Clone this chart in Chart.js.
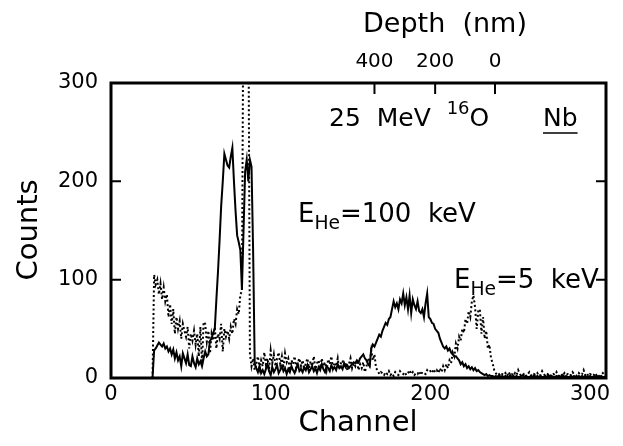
<!DOCTYPE html>
<html>
<head>
<meta charset="utf-8">
<script src="https://cdn.jsdelivr.net/npm/chart.js@4.4.1/dist/chart.umd.min.js"></script>
<style>
  html, body { margin: 0; padding: 0; background: #fff; }
  #spectrum { display: block; }
</style>
</head>
<body>
<canvas id="spectrum" width="623" height="446"></canvas>
<script>
/* data: counts per channel, starting at firstChannel */
const firstChannel = 26;

const counts100keV = [
  0, 28, 30, 33, 36, 34, 32, 35, 30, 32, 27, 30, 24, 29, 20, 26, 18, 22, 12, 25,
  20, 15, 24, 13, 12, 22, 15, 11, 20, 14, 17, 12, 20, 27, 22, 24, 38, 40, 46, 50,
  80, 108, 140, 175, 200, 228, 222, 216, 214, 225, 234, 200, 170, 145, 138, 130, 90, 150, 210, 222,
  200, 222, 215, 130, 15, 10, 6, 12, 5, 8, 4, 9, 14, 7, 3, 11, 6, 9, 13, 5,
  8, 12, 7, 10, 4, 9, 6, 12, 8, 5, 10, 14, 7, 9, 6, 11, 8, 13, 6, 9,
  12, 7, 10, 5, 11, 8, 14, 9, 6, 12, 10, 7, 13, 9, 11, 8, 14, 10, 12, 9,
  15, 11, 13, 10, 12, 14, 16, 15, 18, 16, 20, 22, 24, 20, 18, 14, 12, 30, 34, 32,
  36, 40, 44, 42, 48, 52, 56, 54, 60, 62, 70, 78, 72, 76, 70, 80, 76, 86, 74, 82,
  70, 84, 66, 80, 74, 70, 78, 68, 66, 70, 62, 76, 86, 62, 60, 56, 55, 50, 48, 46,
  40, 36, 32, 30, 32, 28, 30, 26, 24, 22, 22, 20, 18, 14, 16, 12, 14, 10, 12, 9,
  11, 8, 10, 7, 8, 6, 5, 4, 3, 4, 2, 3, 2, 2, 1, 2, 1, 3, 1, 2,
  1, 2, 1, 1, 3, 1, 2, 1, 2, 1, 1, 2, 3, 1, 2, 1, 1, 2, 1, 3,
  1, 2, 1, 2, 1, 1, 2, 1, 3, 1, 2, 1, 1, 2, 1, 2, 1, 3, 1, 2,
  1, 1, 2, 1, 2, 1, 1, 2, 1, 2, 1, 2, 1, 1, 2, 1, 1, 2, 1, 2,
  1, 2, 1, 1, 2
];

const counts5keV = [
  0, 105, 95, 100, 85, 96, 80, 92, 78, 85, 62, 75, 55, 70, 45, 62, 50, 58, 40, 55,
  48, 42, 52, 30, 45, 38, 48, 34, 45, 22, 52, 15, 57, 55, 37, 48, 25, 45, 38, 52,
  30, 45, 40, 55, 27, 50, 42, 48, 40, 52, 45, 60, 55, 70, 65, 85, 88, 420, 520, 480,
  400, 25, 12, 20, 8, 15, 22, 10, 18, 12, 26, 14, 20, 9, 28, 15, 24, 12, 20, 26,
  14, 22, 10, 25, 16, 20, 8, 18, 14, 22, 10, 16, 20, 12, 18, 8, 15, 20, 10, 17,
  12, 22, 9, 15, 18, 10, 20, 12, 16, 8, 19, 14, 22, 10, 16, 12, 20, 9, 15, 18,
  11, 16, 8, 14, 20, 10, 15, 12, 18, 8, 14, 10, 16, 6, 12, 20, 14, 28, 18, 24,
  10, 8, 4, 6, 5, 3, 6, 4, 7, 3, 5, 2, 6, 4, 3, 7, 5, 4, 6, 3,
  5, 8, 4, 6, 3, 5, 4, 7, 3, 6, 5, 4, 8, 6, 7, 5, 9, 6, 8, 5,
  10, 6, 12, 8, 14, 10, 18, 15, 26, 22, 35, 30, 42, 38, 50, 46, 60, 55, 68, 62,
  78, 84, 72, 50, 68, 70, 45, 62, 40, 48, 30, 34, 20, 15, 8, 5, 3, 4, 2, 4,
  3, 5, 2, 6, 3, 4, 2, 5, 3, 8, 4, 2, 3, 5, 2, 4, 6, 3, 2, 4,
  3, 5, 2, 3, 7, 4, 2, 3, 5, 3, 2, 4, 3, 6, 2, 3, 4, 2, 5, 3,
  4, 2, 3, 6, 4, 3, 2, 5, 3, 4, 8, 3, 5, 2, 4, 3, 2, 5, 3, 4,
  2, 3, 5, 3, 4
];

/* tick labels */
const xTickValues = [0, 100, 200, 300];
const yTickValues = [0, 100, 200, 300];
const depthLabels = ["400", "200", "0"];
const depthChannels = [165, 203, 240.5];

const fontName = "'DejaVu Sans', sans-serif";

function toPoints(values) {
  return values.map((v, i) => ({ x: firstChannel + i, y: v }));
}

/* draws text runs with sub/superscripts, left to right */
function drawRuns(ctx, runs, x, y, size) {
  let cx = x;
  runs.forEach(run => {
    const s = run.sub || run.sup ? size * 0.72 : size;
    const dy = run.sub ? size * 0.36 : run.sup ? -size * 0.38 : 0;
    ctx.font = `${s}px ${fontName}`;
    ctx.fillText(run.t, cx, y + dy);
    cx += ctx.measureText(run.t).width;
  });
  return cx;
}

const frameAndLabels = {
  id: "frameAndLabels",
  afterDraw(chart) {
    const { ctx, chartArea: a, scales: { x, y } } = chart;
    ctx.save();
    ctx.strokeStyle = "#000";
    ctx.fillStyle = "#000";

    // frame
    ctx.lineWidth = 3;
    ctx.strokeRect(a.left, a.top, a.right - a.left, a.bottom - a.top);

    // inward y ticks on both sides
    ctx.lineWidth = 2;
    yTickValues.forEach(v => {
      if (v <= 0 || v >= 300) return;
      const py = y.getPixelForValue(v);
      ctx.beginPath();
      ctx.moveTo(a.left, py);
      ctx.lineTo(a.left + 10, py);
      ctx.moveTo(a.right, py);
      ctx.lineTo(a.right - 10, py);
      ctx.stroke();
    });

    // depth axis on top
    ctx.textAlign = "center";
    ctx.textBaseline = "middle";
    ctx.font = `20px ${fontName}`;
    depthChannels.forEach((c, i) => {
      const px = x.getPixelForValue(c);
      ctx.beginPath();
      ctx.moveTo(px, a.top);
      ctx.lineTo(px, a.top + 11);
      ctx.stroke();
      ctx.fillText(depthLabels[i], px, a.top - 21);
    });
    ctx.font = `27px ${fontName}`;
    ctx.fillText("Depth  (nm)", 445, 25);

    // axis titles
    ctx.font = `29px ${fontName}`;
    ctx.fillText("Channel", 358, 423);
    ctx.save();
    ctx.translate(29, 230);
    ctx.rotate(-Math.PI / 2);
    ctx.fillText("Counts", 0, 0);
    ctx.restore();

    // annotations
    ctx.textAlign = "left";
    drawRuns(ctx, [{ t: "25  MeV  " }, { t: "16", sup: true }, { t: "O" }], 329, 119, 25);
    ctx.font = `25px ${fontName}`;
    ctx.fillText("Nb", 543, 119);
    const nbWidth = ctx.measureText("Nb").width;
    ctx.lineWidth = 1.5;
    ctx.beginPath();
    ctx.moveTo(543, 133);
    ctx.lineTo(543 + nbWidth, 133);
    ctx.stroke();

    drawRuns(ctx, [{ t: "E" }, { t: "He", sub: true }, { t: "=100  keV" }], 298, 215, 26);
    drawRuns(ctx, [{ t: "E" }, { t: "He", sub: true }, { t: "=5  keV" }], 454, 281, 26);

    ctx.restore();
  }
};

new Chart(document.querySelector("#spectrum"), {
  type: "line",
  data: {
    datasets: [
      {
        label: "EHe=100 keV",
        data: toPoints(counts100keV),
        borderColor: "#000",
        borderWidth: 2,
        pointRadius: 0,
        tension: 0
      },
      {
        label: "EHe=5 keV",
        data: toPoints(counts5keV),
        borderColor: "#000",
        borderWidth: 2,
        borderDash: [2, 2.5],
        pointRadius: 0,
        tension: 0
      }
    ]
  },
  options: {
    responsive: false,
    animation: false,
    events: [],
    layout: {
      padding: { top: 83, right: 17, left: 0, bottom: 0 }
    },
    plugins: {
      legend: { display: false },
      tooltip: { enabled: false }
    },
    scales: {
      x: {
        type: "linear",
        min: 0,
        max: 310,
        grid: { display: false, drawTicks: false },
        border: { display: false },
        afterBuildTicks: scale => {
          scale.ticks = xTickValues.map(v => ({ value: v }));
        },
        afterFit: scale => {
          scale.height = 68;
        },
        ticks: {
          color: "#000",
          padding: 4,
          maxRotation: 0,
          font: { family: fontName, size: 21 }
        }
      },
      y: {
        min: 0,
        max: 300,
        grid: { display: false, drawTicks: false },
        border: { display: false },
        afterBuildTicks: scale => {
          scale.ticks = yTickValues.map(v => ({ value: v }));
        },
        afterFit: scale => {
          scale.width = 111;
        },
        ticks: {
          color: "#000",
          padding: 13,
          font: { family: fontName, size: 21 }
        }
      }
    }
  },
  plugins: [frameAndLabels]
});
</script>
</body>
</html>
